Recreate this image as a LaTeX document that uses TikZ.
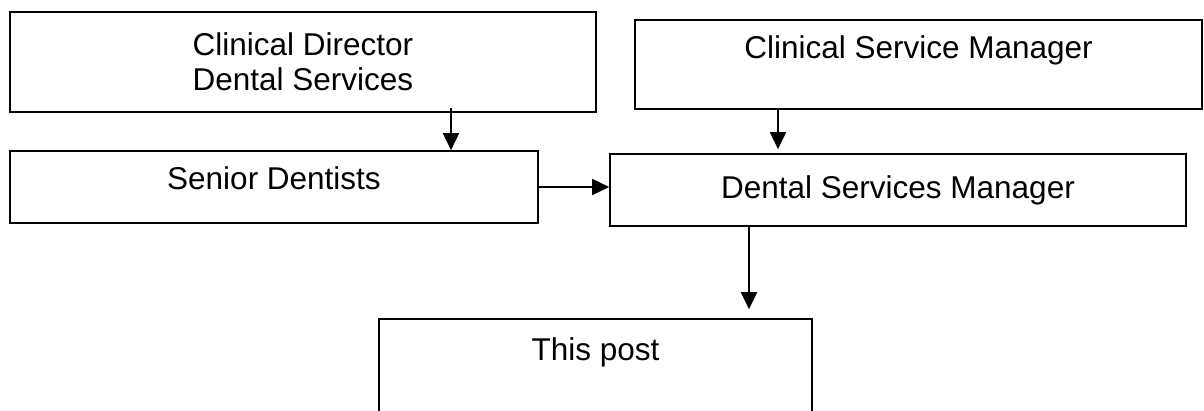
\documentclass[tikz,border=0pt]{standalone}
\usepackage{fontspec}
\setmainfont{Liberation Sans}
\usetikzlibrary{arrows.meta}
\begin{document}
\begin{tikzpicture}[x=1pt, y=-1pt, line width=1.6pt, >={Triangle[width=16pt,length=17pt]},
        post/.style={draw, rectangle, inner sep=2pt, align=center, text height=22.6pt,
            font=\fontsize{31.5}{35}\selectfont}]
        \useasboundingbox (0, 0) rectangle (1204, 410);
        \node[post, minimum width=586pt, minimum height=100pt, text height=, text depth=] at(303, 62) (cd) {Clinical Director\\Dental Services};
        \node[post, minimum width=567pt, minimum height=89pt, text depth=35pt] at(918.5, 64.5) (csm) {Clinical Service Manager};
        \node[post, minimum width=528pt, minimum height=72pt, text depth=18pt] at(274, 187) (sd) {Senior Dentists};
        \node[post, minimum width=576pt, minimum height=72pt, text depth=6pt] at(898, 190) (dsm) {Dental Services Manager};
        \node[post, minimum width=433pt, minimum height=100pt, text depth=40pt] at(595.5, 369) (tp) {This post};
        \draw[->] ([xshift=148pt, yshift=5pt]cd.south) -- ([xshift=148pt]cd.south |- sd.north);
        \draw[->, shorten >=4pt] ([xshift=-140.5pt]csm.south) -- ([xshift=-140.5pt]csm.south |- dsm.north);
        \draw[->] (sd.east) -- (sd.east -| dsm.west);
        \draw[->, shorten >=9pt] ([xshift=-149pt]dsm.south) -- ([xshift=-149pt]dsm.south |- tp.north);
    \end{tikzpicture}
\end{document}
